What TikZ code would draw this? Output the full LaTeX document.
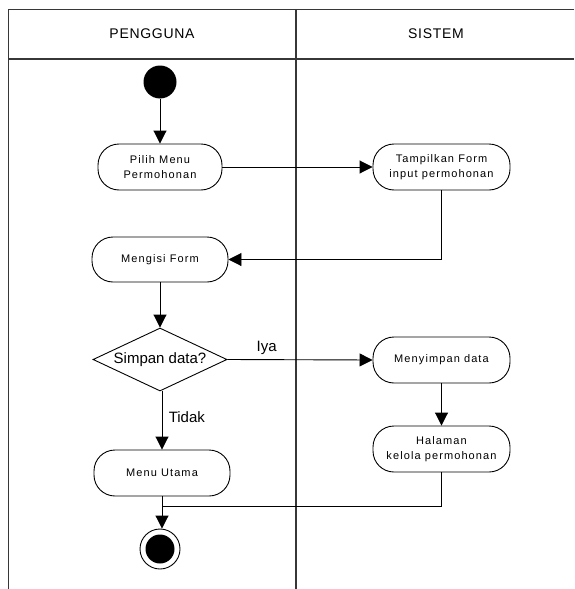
\documentclass[tikz,border=0pt]{standalone}
\usepackage{fontspec}
\setmainfont{Liberation Sans}
\newfontfamily\boxfont[LetterSpace=10]{Liberation Sans}
\newfontfamily\headfont[LetterSpace=5]{Liberation Sans}
\usetikzlibrary{arrows.meta, positioning, shapes.geometric, calc}
\definecolor{lanecolor}{RGB}{55,55,55}
\tikzset{
  act/.style     = {draw, rounded corners=21pt, minimum width=136pt, minimum height=46pt,
                    align=center, font=\boxfont\fontsize{11}{15}\selectfont, inner sep=2pt, line width=0.9pt},
  decide/.style  = {diamond, draw, aspect=2.1, minimum width=134pt, minimum height=63pt,
                    inner sep=0pt, font=\fontsize{15}{18}\selectfont, line width=0.9pt},
  startdot/.style= {circle, fill=black, minimum size=33pt, inner sep=0pt},
  endout/.style  = {circle, draw, fill=white, minimum size=40pt, inner sep=0pt, line width=0.9pt},
  endin/.style   = {circle, fill=black, minimum size=29pt, inner sep=0pt},
  flow/.style    = {-{Triangle[length=13pt, width=13pt]}, line width=0.9pt},
  lane/.style    = {draw=lanecolor, line width=1.1pt},
  lanehead/.style= {font=\headfont\fontsize{14}{16}\selectfont},
  guard/.style   = {font=\fontsize{15}{18}\selectfont},
}
\begin{document}
\begin{tikzpicture}[x=1pt, y=-1pt]
  \useasboundingbox (0,0) rectangle (574,589);
  % swimlanes
  \draw[lane] (574,9.5) -- (8.7,9.5) -- (8.7,589);
  \draw[lane] (8.7,59) -- (574,59);
  \draw[lane] (296,9.5) -- (296,589);
  \node[lanehead] (hpengguna) at (152,34) {PENGGUNA};
  \node[lanehead] (hsistem) at (436,34) {SISTEM};

  % activities
  \node[startdot] (start) at (160,82) {};
  \node[act, minimum width=124pt] (pilih) at (160,167) {Pilih Menu\\Permohonan};
  \node[act, minimum width=137pt] (tampil) at (441.5,167) {Tampilkan Form\\input permohonan};
  \node[act, minimum height=45pt] (mengisi) at (160,259.5) {Mengisi Form};
  \node[decide] (simpan) at (160,359.5) {Simpan data?};
  \node[act, minimum width=137pt] (menyimpan) at (441.5,360) {Menyimpan data};
  \node[act, minimum width=137pt] (halaman) at (441.5,449) {Halaman\\kelola permohonan};
  \node[act] (utama) at (162,473) {Menu Utama};
  \node[endout] (end) at (160,549) {};
  \node[endin] (endfill) at (end) {};
  \coordinate (join) at (161.7,506);

  % transitions
  \draw[flow] (start) -- (pilih);
  \draw[flow] (pilih) -- (tampil);
  \draw[flow] (tampil.south) |- (mengisi.east);
  \draw[flow] (mengisi) -- (simpan);
  \draw[flow] (simpan.east) -- node[guard, pos=0.27, above=1pt] (iya) {Iya} (menyimpan.west);
  \draw[flow] (menyimpan) -- (halaman);
  \draw[flow] (simpan.south -| utama.north) -- node[guard, pos=0.45, right=3pt] (tidak) {Tidak} (utama.north);
  \draw[line width=0.9pt] (halaman.south) |- (join);
  \draw[flow] (utama.south) -- (end.north -| utama.south);
\end{tikzpicture}
\end{document}
